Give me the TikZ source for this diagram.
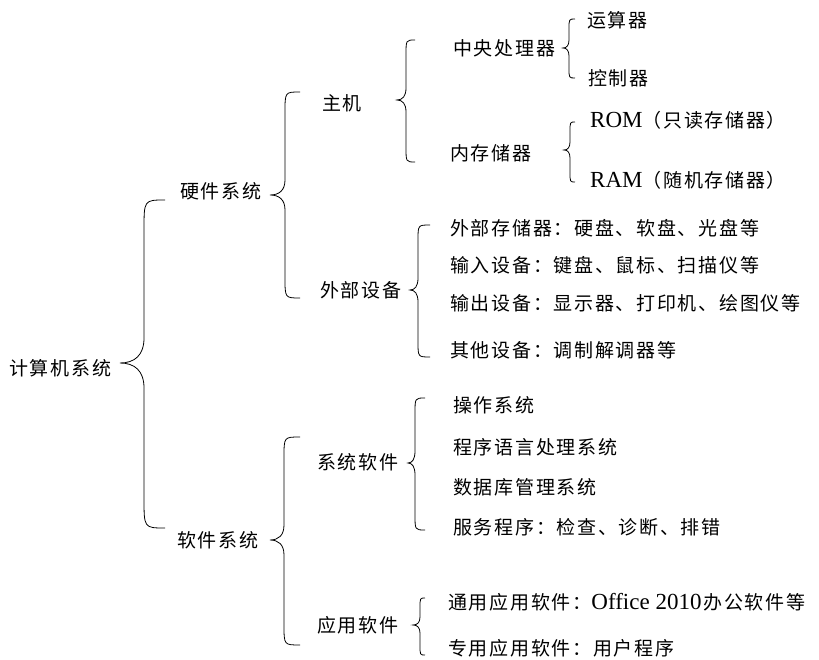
\documentclass[tikz,border=0pt]{standalone}
\usepackage{fontspec}
\setmainfont{Liberation Serif}
\newfontfamily\cjk[LetterSpace=9]{Noto Sans CJK SC}
\newfontfamily\lat{Liberation Serif}
\newcommand{\cbrace}[8]{%
  \draw[bracestyle] (#4,#5) .. controls (#3,#5) and (#3,#5) .. (#3,#5+#7)
    -- (#3,#2-#8) .. controls (#3,#2-0.3*#8) and ({#3-0.4*(#3-#1)},#2) .. (#1,#2)
    .. controls ({#3-0.4*(#3-#1)},#2) and (#3,#2+0.3*#8) .. (#3,#2+#8)
    -- (#3,#6-#7) .. controls (#3,#6) and (#3,#6) .. (#4,#6);}
\begin{document}
\begin{tikzpicture}[x=1pt,y=-1pt,
  bracestyle/.style={draw=black,line width=0.8pt},
  lbl/.style={anchor=west,inner sep=0pt,font=\fontsize{19}{21}\cjk}]
\useasboundingbox (0,0) rectangle (819,660);
% level 0/1
\node[lbl] (root) at (9,368) {计算机系统};
\node[lbl] (hw) at (180,191) {硬件系统};
\node[lbl] (sw) at (177,540) {软件系统};
% hardware
\node[lbl] (host) at (322,103) {主机};
\node[lbl] (periph) at (320,290) {外部设备};
\node[lbl] (cpu) at (453,48) {中央处理器};
\node[lbl] (mem) at (450,153) {内存储器};
\node[lbl] (alu) at (587,20) {运算器};
\node[lbl] (ctrl) at (588,78) {控制器};
\node[lbl] (rom) at (590,120) {{\fontsize{23}{24}\lat ROM}（只读存储器）};
\node[lbl] (ram) at (590,180) {{\fontsize{23}{24}\lat RAM}（随机存储器）};
\node[lbl] (ext) at (450,228) {外部存储器：硬盘、软盘、光盘等};
\node[lbl] (inp) at (450,265) {输入设备：键盘、鼠标、扫描仪等};
\node[lbl] (outp) at (450,303) {输出设备：显示器、打印机、绘图仪等};
\node[lbl] (other) at (450,350) {其他设备：调制解调器等};
% software
\node[lbl] (syssw) at (317,462) {系统软件};
\node[lbl] (appsw) at (317,625) {应用软件};
\node[lbl] (os) at (453,405) {操作系统};
\node[lbl] (lang) at (453,447) {程序语言处理系统};
\node[lbl] (db) at (453,487) {数据库管理系统};
\node[lbl] (svc) at (453,527) {服务程序：检查、诊断、排错};
\node[lbl] (gen) at (448,602) {通用应用软件：{\fontsize{23}{24}\lat Office 2010\kern2pt}办公软件等};
\node[lbl] (spec) at (448,648) {专用应用软件：用户程序};
% braces
\cbrace{120}{363}{144}{165}{200}{528}{30}{25}
\cbrace{270}{195}{285}{300}{92}{298}{20}{15}
\cbrace{397}{100}{406}{415}{40}{162}{15}{12}
\cbrace{563}{48}{569}{575}{19}{78}{10}{8}
\cbrace{564}{150}{570}{575}{122}{182}{10}{8}
\cbrace{410}{290}{418}{430}{225}{357}{15}{12}
\cbrace{270}{540}{284}{300}{437}{645}{20}{15}
\cbrace{408}{463}{415}{425}{398}{530}{15}{12}
\cbrace{413}{625}{420}{425}{598}{655}{10}{8}
\end{tikzpicture}
\end{document}
